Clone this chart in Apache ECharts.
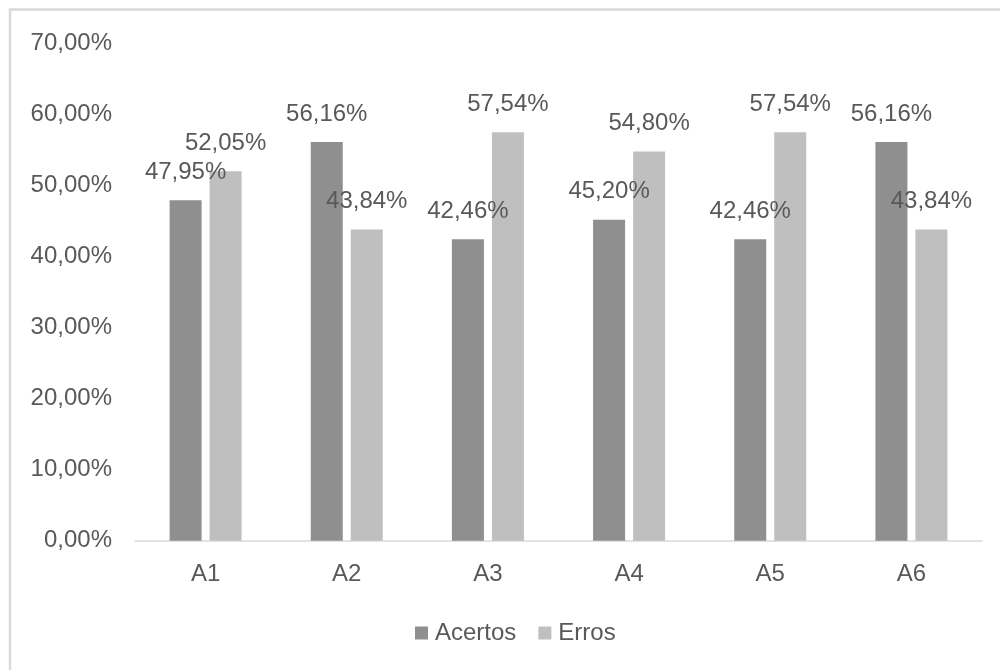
<!DOCTYPE html>
<html>
<head>
<meta charset="utf-8">
<title>Acertos e Erros por atividade</title>
<script src="https://cdn.jsdelivr.net/npm/echarts@6/dist/echarts.min.js"></script>
<style>
  html, body { margin: 0; padding: 0; background: #ffffff; }
  #chart { width: 1000px; height: 670px; }
</style>
</head>
<body>
<div id="chart"></div>
<script>
// Atividades avaliadas
const categories = ['A1', 'A2', 'A3', 'A4', 'A5', 'A6'];
// Percentual de acertos e erros por atividade
const acertos = [47.95, 56.16, 42.46, 45.20, 42.46, 56.16];
const erros = [52.05, 43.84, 57.54, 54.80, 57.54, 43.84];
const seriesNames = ['Acertos', 'Erros'];

const fontFamily = '"Liberation Sans", Arial, sans-serif';
const textColor = '#595959';
const fontSize = 24;

// Formato brasileiro: vírgula decimal, duas casas
function pct(v) {
  return v.toFixed(2).replace('.', ',') + '%';
}

const chart = echarts.init(document.getElementById('chart'), null, { renderer: 'canvas' });

const labelStyle = {
  show: true,
  position: 'top',
  distance: 16,
  color: textColor,
  fontFamily: fontFamily,
  fontSize: fontSize,
  formatter: p => pct(p.value)
};

chart.setOption({
  backgroundColor: '#ffffff',
  animation: false,
  textStyle: { fontFamily: fontFamily },
  graphic: [{
    type: 'rect',
    shape: { x: 10, y: 9.5, width: 1000, height: 700 },
    style: { fill: 'none', stroke: '#d9d9d9', lineWidth: 2.5 },
    silent: true
  }],
  grid: { left: 135, right: 18, top: 43.7, bottom: 129.3, containLabel: false },
  legend: {
    data: seriesNames,
    bottom: 20,
    left: 410,
    itemWidth: 13,
    itemHeight: 13,
    itemGap: 22,
    icon: 'rect',
    textStyle: { color: textColor, fontSize: fontSize, fontFamily: fontFamily, padding: [0, 0, 0, 2] }
  },
  xAxis: {
    type: 'category',
    data: categories,
    axisLine: { show: true, lineStyle: { color: '#d9d9d9', width: 1.5 } },
    axisTick: { show: false },
    axisLabel: { color: textColor, fontSize: fontSize, fontFamily: fontFamily, margin: 22 },
    splitLine: { show: false }
  },
  yAxis: {
    type: 'value',
    min: 0,
    max: 70,
    interval: 10,
    axisLine: { show: false },
    axisTick: { show: false },
    splitLine: { show: false },
    axisLabel: {
      color: textColor,
      fontSize: fontSize,
      fontFamily: fontFamily,
      margin: 23,
      formatter: v => pct(v)
    }
  },
  series: [
    {
      name: seriesNames[0],
      type: 'bar',
      data: acertos,
      barWidth: 32,
      barGap: '25%',
      itemStyle: { color: '#8f8f8f' },
      label: labelStyle
    },
    {
      name: seriesNames[1],
      type: 'bar',
      data: erros,
      barWidth: 32,
      itemStyle: { color: '#bfbfbf' },
      label: labelStyle
    }
  ]
});
</script>
</body>
</html>
